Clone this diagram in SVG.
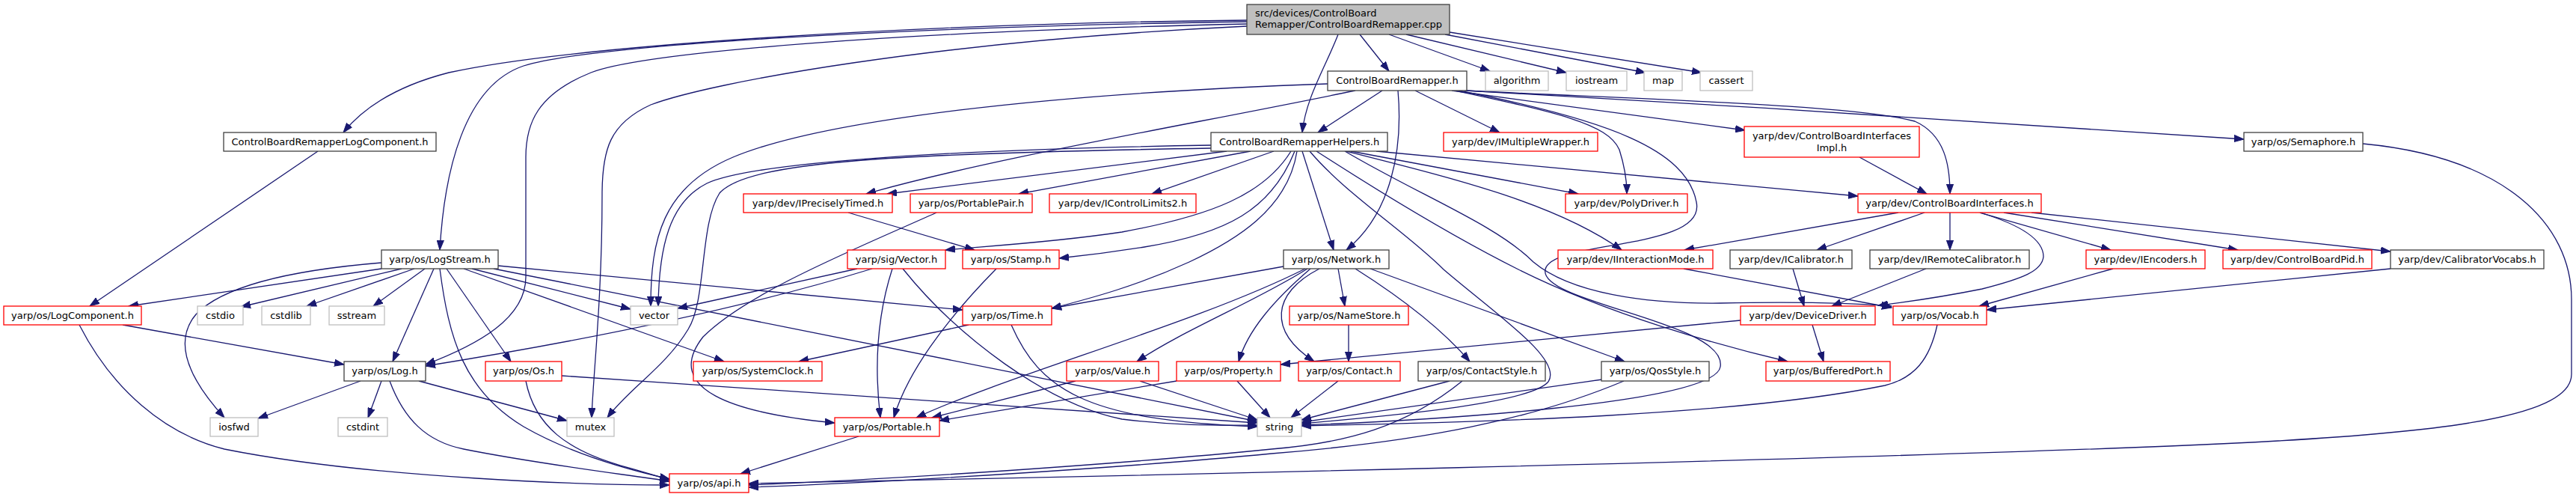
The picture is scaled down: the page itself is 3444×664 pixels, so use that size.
<svg xmlns="http://www.w3.org/2000/svg" width="3444" height="664" viewBox="0 0 3444 664">
<defs>
<marker id="a" markerUnits="userSpaceOnUse" markerWidth="14" markerHeight="10" refX="13" refY="5" orient="auto"><path d="M0,0.4 L13,5 L0,9.6 z" fill="#191970" stroke="#191970" stroke-width="1"/></marker>
</defs>
<style>
.n rect{fill:#fff;stroke:#404040;stroke-width:1.3}
.n.r rect{stroke:#ff0000}
.n.x rect{stroke:#bfbfbf}
.n.m rect{fill:#bfbfbf;stroke:#404040}
text{font-family:"DejaVu Sans","Liberation Sans",sans-serif;font-size:13px;fill:#000;text-anchor:middle}
.e path{fill:none;stroke:#191970;stroke-width:1.3;marker-end:url(#a)}
</style>
<rect width="3444" height="664" fill="#fff"/>
<g id="edges" class="e">
<path d="M1667,27 C1200,32 760,62 600,97 C530,115 485,145 459,177"/>
<path d="M1667,29 C1200,36 790,60 700,88 C620,115 594,230 588,334"/>
<path d="M1667,32 C1200,42 860,70 790,97 C718,126 703,165 703,210 L703,370 C703,425 640,460 569,487"/>
<path d="M1667,35 C1250,55 950,110 870,140 C815,165 805,200 805,260 C805,400 793,500 791,558"/>
<path d="M1818,46 L1857,95"/>
<path d="M1789,46 C1772,90 1746,130 1741,177"/>
<path d="M1857,46 L1992,95"/>
<path d="M1880,46 L2094,97"/>
<path d="M1932,46 L2200,97"/>
<path d="M1938,43 L2275,97"/>
<path d="M1775,112 C1400,125 1100,160 980,210 C885,250 870,320 870,409"/>
<path d="M1812,121 C1600,165 1330,210 1158,259"/>
<path d="M1848,121 L1762,177"/>
<path d="M1869,121 C1876,200 1860,285 1800,334"/>
<path d="M1892,121 L2005,177"/>
<path d="M1945,121 C2080,150 2150,165 2165,200 C2172,222 2175,240 2175,259"/>
<path d="M1941,121 L2333,174"/>
<path d="M1950,121 C2150,160 2255,200 2268,270 C2282,335 2075,320 2066,360 C2056,405 2310,430 2300,490 C2292,540 1900,562 1740,568"/>
<path d="M1960,121 C2300,140 2700,165 3000,186"/>
<path d="M1958,121 C2200,133 2480,140 2560,162 C2600,180 2607,220 2607,259"/>
<path d="M1619,194 C1300,199 1010,215 945,245 C895,270 881,330 880,409"/>
<path d="M1619,198 C1200,205 1000,215 962,258 C935,300 945,400 920,440 C890,490 840,520 812,558"/>
<path d="M1640,202 L1186,259"/>
<path d="M1672,202 L1362,259"/>
<path d="M1703,202 L1540,259"/>
<path d="M1726,202 C1690,260 1620,288 1500,310 C1400,325 1300,330 1264,334"/>
<path d="M1731,202 C1700,280 1640,312 1530,330 C1480,338 1445,342 1416,345"/>
<path d="M1734,202 C1722,280 1650,322 1590,350 C1520,382 1460,398 1406,412"/>
<path d="M1741,202 L1783,334"/>
<path d="M1751,202 C1800,260 1880,310 1930,360 C2000,420 2090,480 2070,510 C2045,540 1850,556 1740,566"/>
<path d="M1760,202 C1850,260 1950,320 2030,360 C2150,420 2300,462 2390,483"/>
<path d="M1798,202 C1900,262 2000,300 2050,350 C2100,392 2200,406 2300,405 C2400,403 2480,405 2529,409"/>
<path d="M1800,202 C1950,240 2080,272 2168,334"/>
<path d="M1806,202 L2110,259"/>
<path d="M1840,202 L2484,262"/>
<path d="M1716,356 L1406,412"/>
<path d="M1745,359 C1600,432 1350,500 1225,558"/>
<path d="M1748,359 C1680,402 1580,442 1520,483"/>
<path d="M1752,359 C1702,402 1668,442 1656,483"/>
<path d="M1764,359 C1700,392 1695,442 1757,483"/>
<path d="M1789,359 L1798,409"/>
<path d="M1812,359 C1880,402 1930,442 1965,483"/>
<path d="M1832,359 L2172,483"/>
<path d="M1803,434 L1803,483"/>
<path d="M1789,509 L1726,558"/>
<path d="M1938,509 L1740,561"/>
<path d="M1955,509 C1880,570 1800,592 1700,600 C1500,620 1200,640 1001,648"/>
<path d="M2142,507 L1740,564"/>
<path d="M2171,509 C2050,560 1900,590 1700,606 C1500,625 1200,644 1001,651"/>
<path d="M3159,192 C3350,210 3438,300 3438,400 L3438,500 C3438,560 3250,582 2900,596 C2400,616 1500,636 1001,646"/>
<path d="M2327,428 L1712,487"/>
<path d="M2423,434 L2438,483"/>
<path d="M2397,359 L2412,409"/>
<path d="M2575,359 L2449,409"/>
<path d="M2251,359 L2529,411"/>
<path d="M2647,284 C2700,300 2732,320 2732,343 C2730,362 2705,372 2650,386 C2590,398 2545,404 2511,408"/>
<path d="M2590,434 C2580,480 2560,505 2520,515 C2300,560 1900,565 1740,569"/>
<path d="M2825,359 L2646,409"/>
<path d="M3196,359 L2656,414"/>
<path d="M2486,210 L2576,259"/>
<path d="M2538,284 L2252,334"/>
<path d="M2573,284 L2429,334"/>
<path d="M2607,284 L2607,334"/>
<path d="M2647,284 L2822,334"/>
<path d="M2679,284 L2992,334"/>
<path d="M2716,284 L3196,336"/>
<path d="M1134,284 L1303,334"/>
<path d="M1252,284 C1150,330 1000,390 940,450 C885,520 980,552 1116,565"/>
<path d="M1146,359 L906,412"/>
<path d="M1166,359 C1000,410 800,452 569,489"/>
<path d="M1193,359 C1170,430 1170,500 1177,558"/>
<path d="M1207,359 C1280,450 1400,540 1500,560 C1580,570 1640,568 1681,568"/>
<path d="M1332,359 C1262,430 1212,500 1195,558"/>
<path d="M1295,434 L1068,483"/>
<path d="M1352,434 C1390,520 1450,562 1681,570"/>
<path d="M1438,509 L1246,558"/>
<path d="M1524,509 L1681,561"/>
<path d="M1573,509 L1256,562"/>
<path d="M1654,509 L1698,558"/>
<path d="M1148,583 L990,633"/>
<path d="M510,359 L172,409"/>
<path d="M510,351 C400,360 300,380 262,420 C228,460 258,512 300,558"/>
<path d="M537,359 L322,410"/>
<path d="M554,359 L410,409"/>
<path d="M568,359 L499,409"/>
<path d="M580,359 L525,483"/>
<path d="M588,359 C600,452 620,522 700,570 C770,610 850,630 895,640"/>
<path d="M597,359 L683,483"/>
<path d="M620,359 L968,483"/>
<path d="M631,359 L843,413"/>
<path d="M660,359 L1681,563"/>
<path d="M666,355 L1287,414"/>
<path d="M482,509 L345,559"/>
<path d="M510,509 L492,558"/>
<path d="M521,509 C540,560 570,590 620,600 C720,620 830,633 895,643"/>
<path d="M560,509 L758,562"/>
<path d="M751,502 L1681,565"/>
<path d="M703,509 C715,570 760,602 830,622 C860,630 878,636 895,641"/>
<path d="M164,434 L460,487"/>
<path d="M106,434 C150,520 220,580 300,600 C500,640 800,648 895,648"/>
<path d="M425,202 L120,409"/>
</g>
<g id="n1" class="n m"><rect x="1667" y="6" width="271" height="40"/><text x="1678" y="22" style="text-anchor:start">src/devices/ControlBoard</text><text x="1678" y="37" style="text-anchor:start">Remapper/ControlBoardRemapper.cpp</text></g>
<g id="n2" class="n"><rect x="299" y="177" width="284" height="25"/><text x="441" y="194">ControlBoardRemapperLogComponent.h</text></g>
<g id="n3" class="n"><rect x="1775" y="95" width="186" height="26"/><text x="1868" y="112">ControlBoardRemapper.h</text></g>
<g id="n4" class="n x"><rect x="1986" y="95" width="84" height="26"/><text x="2028" y="112">algorithm</text></g>
<g id="n5" class="n x"><rect x="2094" y="95" width="81" height="26"/><text x="2134.5" y="112">iostream</text></g>
<g id="n6" class="n x"><rect x="2198" y="95" width="51" height="26"/><text x="2223.5" y="112">map</text></g>
<g id="n7" class="n x"><rect x="2273" y="95" width="70" height="26"/><text x="2308" y="112">cassert</text></g>
<g id="n8" class="n"><rect x="1619" y="177" width="236" height="25"/><text x="1737" y="194">ControlBoardRemapperHelpers.h</text></g>
<g id="n9" class="n r"><rect x="1930" y="177" width="206" height="25"/><text x="2033" y="194">yarp/dev/IMultipleWrapper.h</text></g>
<g id="n10" class="n r"><rect x="2332" y="169" width="234" height="41"/><text x="2449" y="186">yarp/dev/ControlBoardInterfaces</text><text x="2449" y="202">Impl.h</text></g>
<g id="n11" class="n"><rect x="3000" y="177" width="159" height="25"/><text x="3079.5" y="194">yarp/os/Semaphore.h</text></g>
<g id="n12" class="n r"><rect x="994" y="259" width="199" height="25"/><text x="1093.5" y="276">yarp/dev/IPreciselyTimed.h</text></g>
<g id="n13" class="n r"><rect x="1217" y="259" width="163" height="25"/><text x="1298.5" y="276">yarp/os/PortablePair.h</text></g>
<g id="n14" class="n r"><rect x="1403" y="259" width="196" height="25"/><text x="1501" y="276">yarp/dev/IControlLimits2.h</text></g>
<g id="n15" class="n r"><rect x="2093" y="259" width="163" height="25"/><text x="2174.5" y="276">yarp/dev/PolyDriver.h</text></g>
<g id="n16" class="n r"><rect x="2484" y="259" width="245" height="25"/><text x="2606.5" y="276">yarp/dev/ControlBoardInterfaces.h</text></g>
<g id="n17" class="n"><rect x="510" y="334" width="156" height="25"/><text x="588" y="351">yarp/os/LogStream.h</text></g>
<g id="n18" class="n r"><rect x="1133" y="334" width="131" height="25"/><text x="1198.5" y="351">yarp/sig/Vector.h</text></g>
<g id="n19" class="n r"><rect x="1287" y="334" width="129" height="25"/><text x="1351.5" y="351">yarp/os/Stamp.h</text></g>
<g id="n20" class="n"><rect x="1716" y="334" width="141" height="25"/><text x="1786.5" y="351">yarp/os/Network.h</text></g>
<g id="n21" class="n r"><rect x="2083" y="334" width="207" height="25"/><text x="2186.5" y="351">yarp/dev/IInteractionMode.h</text></g>
<g id="n22" class="n"><rect x="2313" y="334" width="163" height="25"/><text x="2394.5" y="351">yarp/dev/ICalibrator.h</text></g>
<g id="n23" class="n"><rect x="2500" y="334" width="213" height="25"/><text x="2606.5" y="351">yarp/dev/IRemoteCalibrator.h</text></g>
<g id="n24" class="n r"><rect x="2789" y="334" width="159" height="25"/><text x="2868.5" y="351">yarp/dev/IEncoders.h</text></g>
<g id="n25" class="n r"><rect x="2972" y="334" width="199" height="25"/><text x="3071.5" y="351">yarp/dev/ControlBoardPid.h</text></g>
<g id="n26" class="n"><rect x="3196" y="334" width="205" height="25"/><text x="3298.5" y="351">yarp/dev/CalibratorVocabs.h</text></g>
<g id="n27" class="n r"><rect x="5" y="409" width="184" height="25"/><text x="97" y="426">yarp/os/LogComponent.h</text></g>
<g id="n28" class="n x"><rect x="264" y="409" width="61" height="25"/><text x="294.5" y="426">cstdio</text></g>
<g id="n29" class="n x"><rect x="350" y="409" width="65" height="25"/><text x="382.5" y="426">cstdlib</text></g>
<g id="n30" class="n x"><rect x="440" y="409" width="74" height="25"/><text x="477" y="426">sstream</text></g>
<g id="n31" class="n x"><rect x="843" y="409" width="63" height="25"/><text x="874.5" y="426">vector</text></g>
<g id="n32" class="n r"><rect x="1287" y="409" width="119" height="25"/><text x="1346.5" y="426">yarp/os/Time.h</text></g>
<g id="n33" class="n r"><rect x="1724" y="409" width="159" height="25"/><text x="1803.5" y="426">yarp/os/NameStore.h</text></g>
<g id="n34" class="n r"><rect x="2327" y="409" width="180" height="25"/><text x="2417" y="426">yarp/dev/DeviceDriver.h</text></g>
<g id="n35" class="n r"><rect x="2531" y="409" width="125" height="25"/><text x="2593.5" y="426">yarp/os/Vocab.h</text></g>
<g id="n36" class="n"><rect x="460" y="483" width="109" height="26"/><text x="514.5" y="500">yarp/os/Log.h</text></g>
<g id="n37" class="n r"><rect x="649" y="483" width="102" height="26"/><text x="700" y="500">yarp/os/Os.h</text></g>
<g id="n38" class="n r"><rect x="927" y="483" width="172" height="26"/><text x="1013" y="500">yarp/os/SystemClock.h</text></g>
<g id="n39" class="n r"><rect x="1426" y="483" width="123" height="26"/><text x="1487.5" y="500">yarp/os/Value.h</text></g>
<g id="n40" class="n r"><rect x="1573" y="483" width="139" height="26"/><text x="1642.5" y="500">yarp/os/Property.h</text></g>
<g id="n41" class="n r"><rect x="1736" y="483" width="136" height="26"/><text x="1804" y="500">yarp/os/Contact.h</text></g>
<g id="n42" class="n"><rect x="1896" y="483" width="170" height="26"/><text x="1981" y="500">yarp/os/ContactStyle.h</text></g>
<g id="n43" class="n"><rect x="2141" y="483" width="144" height="26"/><text x="2213" y="500">yarp/os/QosStyle.h</text></g>
<g id="n44" class="n r"><rect x="2361" y="483" width="166" height="26"/><text x="2444" y="500">yarp/os/BufferedPort.h</text></g>
<g id="n45" class="n x"><rect x="281" y="558" width="64" height="25"/><text x="313" y="575">iosfwd</text></g>
<g id="n46" class="n x"><rect x="452" y="558" width="66" height="25"/><text x="485" y="575">cstdint</text></g>
<g id="n47" class="n x"><rect x="758" y="558" width="63" height="25"/><text x="789.5" y="575">mutex</text></g>
<g id="n48" class="n r"><rect x="1116" y="558" width="140" height="25"/><text x="1186" y="575">yarp/os/Portable.h</text></g>
<g id="n49" class="n x"><rect x="1681" y="558" width="59" height="25"/><text x="1710.5" y="575">string</text></g>
<g id="n50" class="n r"><rect x="895" y="633" width="106" height="25"/><text x="948" y="650">yarp/os/api.h</text></g>
</svg>
